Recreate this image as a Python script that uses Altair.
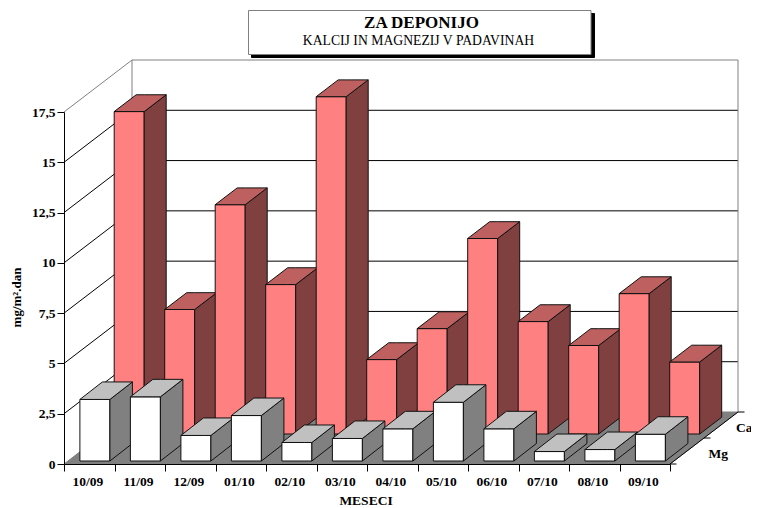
import altair as alt
import pandas as pd

months = ["10/09", "11/09", "12/09", "01/10", "02/10", "03/10",
          "04/10", "05/10", "06/10", "07/10", "08/10", "09/10"]
ca = [16.03, 6.19, 11.4, 7.43, 16.77, 3.7, 5.24, 9.72, 5.59, 4.4, 6.98, 3.58]
mg = [3.06, 3.19, 1.27, 2.26, 0.92, 1.12, 1.6, 2.92, 1.6, 0.47, 0.57, 1.33]
y_ticks = [0, 2.5, 5, 7.5, 10, 12.5, 15, 17.5]

W, H = 606, 352
N = len(months)
YMAX = 17.5
PX = N / W          # category units per pixel
PY = YMAX / H       # value units per pixel

# oblique depth of the box
WALL_DX, WALL_DY = 68 * PX, 52 * PY
BAR_W = 30 * PX
SERIES = {
    "Ca": dict(vals=ca, x0=50.2 * PX, base=30 * PY, dx=22 * PX, dy=16.8 * PY,
               front="#FF8080", top="#BF6060", side="#804040"),
    "Mg": dict(vals=mg, x0=15.9 * PX, base=3 * PY, dx=22.5 * PX, dy=17.5 * PY,
               front="#FFFFFF", top="#C0C0C0", side="#808080"),
}

rows = []
def poly(pid, fill, pts):
    for x, y, y2 in pts:
        rows.append(dict(id=pid, fill=fill, x=x, y=y, y2=y2))

poly("a_floor", "#808080", [
    (0, 0, 0), (WALL_DX, 0, WALL_DY), (N, 0, WALL_DY), (N + WALL_DX, WALL_DY, WALL_DY)])

n = 0
for name in ["Ca", "Mg"]:
    s = SERIES[name]
    for i, v in enumerate(s["vals"]):
        n += 1
        x0, x1 = i + s["x0"], i + s["x0"] + BAR_W
        b, t, dx, dy = s["base"], s["base"] + v, s["dx"], s["dy"]
        poly(f"b{n:02d}_front", s["front"], [(x0, b, t), (x1, b, t)])
        poly(f"b{n:02d}_side", s["side"], [(x1, b, t), (x1 + dx, b + dy, t + dy)])
        poly(f"b{n:02d}_top", s["top"], [
            (x0, t, t), (x0 + dx, t, t + dy), (x1, t, t + dy), (x1 + dx, t + dy, t + dy)])
polys = pd.DataFrame(rows)

# walls
wall_rows = []
for v in y_ticks[1:]:
    top = v == YMAX
    col = "#808080" if top else "#000000"
    wall_rows += [
        dict(id=f"s{v}", col=col, x=0, y=v),
        dict(id=f"s{v}", col=col, x=WALL_DX, y=v + WALL_DY),
        dict(id=f"b{v}", col=col, x=WALL_DX, y=v + WALL_DY),
        dict(id=f"b{v}", col=col, x=N + WALL_DX, y=v + WALL_DY),
    ]
for name, xv in [("vl", WALL_DX), ("vr", N + WALL_DX)]:
    wall_rows += [dict(id=name, col="#808080", x=xv, y=WALL_DY),
                  dict(id=name, col="#808080", x=xv, y=YMAX + WALL_DY)]
# edge and ticks of the floor on the right
wall_rows += [dict(id="edge", col="#000000", x=N, y=0),
              dict(id="edge", col="#000000", x=N + WALL_DX, y=WALL_DY)]
for frac in [0, 0.5, 1]:
    wall_rows += [
        dict(id=f"t{frac}", col="#000000", x=N + WALL_DX * frac, y=WALL_DY * frac),
        dict(id=f"t{frac}", col="#000000", x=N + WALL_DX * frac + 6.5 * PX, y=WALL_DY * frac)]
walls = pd.DataFrame(wall_rows)

xs = alt.Scale(domain=[0, N], nice=False, zero=False)
ys = alt.Scale(domain=[0, YMAX], nice=False, zero=False)
FONT = "Liberation Serif"

x_axis = alt.Axis(values=list(range(N + 1)), labels=False, title=None, grid=False,
                  domainColor="black", tickColor="black", tickSize=7, zindex=1)
y_axis = alt.Axis(values=y_ticks, grid=False, domainColor="black", tickColor="black", tickSize=7,
                  labelExpr="replace(datum.value + '', '.', ',')", labelFont=FONT,
                  labelFontWeight="bold", labelFontSize=13.5, labelColor="black", labelPadding=2,
                  title="mg/m².dan", titleFont=FONT, titleFontWeight="bold", titleFontSize=13,
                  titleColor="black", titleX=-41, titleY=185, zindex=1)

X = alt.X("x:Q", scale=xs, axis=x_axis)
Y = alt.Y("y:Q", scale=ys, axis=y_axis)

floor = alt.Chart(polys[polys.id == "a_floor"]).mark_area(fill="#808080", stroke="#808080", strokeWidth=1).encode(
    x=X, y=Y, y2="y2:Q", detail="id:N")

wall = alt.Chart(walls).mark_line(strokeWidth=1).encode(
    x=X, y=Y, color=alt.Color("col:N", scale=None), detail="id:N", order=alt.Order("x:Q"))

bars = alt.Chart(polys[polys.id != "a_floor"]).mark_area(stroke="#111111", strokeWidth=1).encode(
    x=X, y=Y, y2="y2:Q", fill=alt.Fill("fill:N", scale=None), detail="id:N")

# month labels, centred under the front of each step
lab = pd.DataFrame({"m": months, "x": [i + 0.475 for i in range(N)], "y": [-22 * PY] * N})
month_text = alt.Chart(lab).mark_text(font=FONT, fontWeight="bold", fontSize=13.5, color="black",
                                      baseline="alphabetic").encode(x=X, y=Y, text="m:N")

# annotations positioned on the same scales
def note(txt, px, py, size, weight="bold", align="center"):
    d = pd.DataFrame({"t": [txt], "x": [(px - 64.5) * PX], "y": [(464.5 - py) * PY]})
    return alt.Chart(d).mark_text(font=FONT, fontWeight=weight, fontSize=size, color="black",
                                  align=align, baseline="alphabetic").encode(x=X, y=Y, text="t:N")

def box(x0, x1, y0, y1, fill, stroke):
    d = pd.DataFrame({"x": [(x0 - 64.5) * PX], "x2": [(x1 - 64.5) * PX],
                      "y": [(464.5 - y0) * PY], "y2": [(464.5 - y1) * PY]})
    return alt.Chart(d).mark_rect(fill=fill, stroke=stroke, strokeWidth=1).encode(
        x=X, x2="x2:Q", y=Y, y2="y2:Q")

chart = alt.layer(
    floor, wall, bars, month_text,
    note("MESECI", 366.5, 505, 13.5),
    note("Ca", 736.5, 432, 13.5, align="left"),
    note("Mg", 709, 458, 13.5, align="left"),
    box(252, 595, 14, 58, "#000000", "#000000"),
    box(249, 591.5, 11, 55, "#FFFFFF", "#808080"),
    note("ZA DEPONIJO", 422, 28, 17),
    note("KALCIJ IN MAGNEZIJ V PADAVINAH", 419, 45, 13.7, weight="normal"),
).properties(
    width=W, height=H,
    background="white",
    autosize=alt.AutoSizeParams(type="none"),
    padding={"left": 56, "top": 104, "right": 81, "bottom": 44},
).configure_view(stroke=None)

chart.save("out.html", embed_options={"renderer": "svg", "actions": False})
